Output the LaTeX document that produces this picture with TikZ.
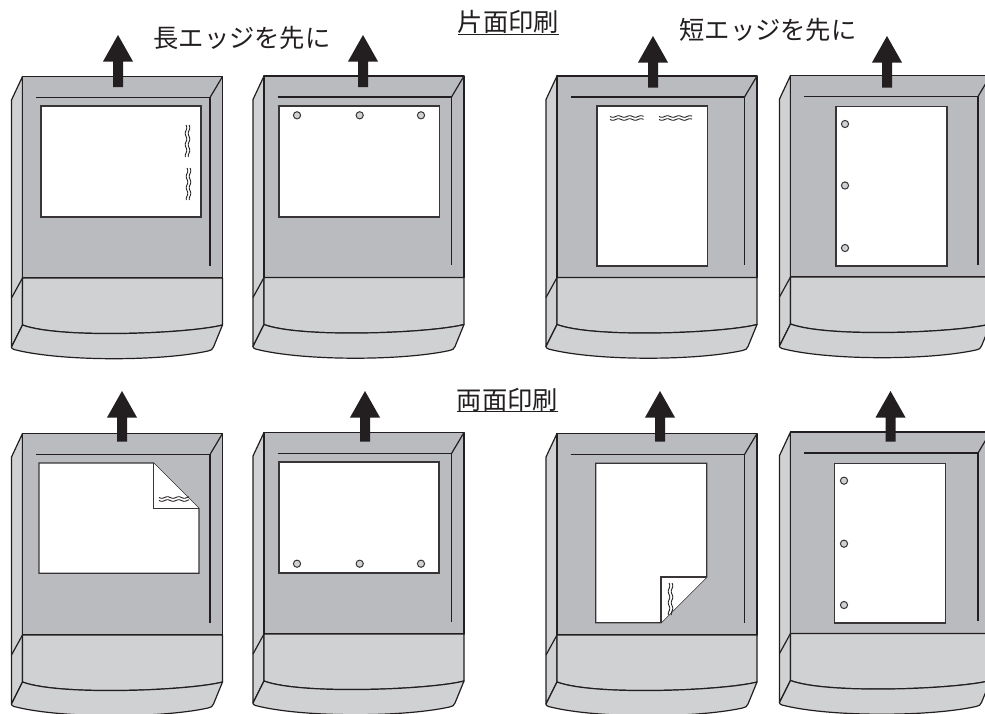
\documentclass[tikz,border=0pt]{standalone}
\usepackage{fontspec}
\setmainfont{Noto Sans CJK JP}
\definecolor{faceg}{HTML}{B9BBBE}
\definecolor{sideg}{HTML}{CFD1D3}
\definecolor{inkk}{HTML}{231F20}
\tikzset{
  outl/.style={draw=inkk,line width=1.2pt,line join=round},
  paper/.style={draw=inkk!90,fill=white,line width=1.2pt,line join=miter},
  hole/.style={draw=inkk!90,fill=sideg,line width=1pt},
  wave/.style={draw=inkk,line width=0.9pt},
  ttl/.style={inner sep=0pt,text=inkk,font=\fontsize{25.3pt}{25.3pt}\selectfont},
  rulel/.style={draw=inkk,line width=1.7pt}
}
\newcommand{\devbody}[2]{%
\begin{scope}[shift={(#1,#2)}]
  % left side
  \path[outl,fill=sideg] (22.5,76.5) -- (11.5,100) -- (11.5,347) -- (22.5,325) -- cycle;
  % top face
  \path[outl,fill=faceg] (22.5,76.5) -- (222.5,76.5) -- (222.5,278) -- (22.5,278) -- cycle;
  % front
  \path[outl,fill=sideg] (22.5,278) -- (222.5,278) -- (222.5,325)
     .. controls (190,333.5) and (60,339) .. (22.5,325) -- cycle;
  % lower lip
  \path[outl,fill=sideg] (22.5,325) .. controls (60,339) and (190,333.5) .. (222.5,325)
     -- (213.5,347) .. controls (212.5,349.5) and (211,350.5) .. (208,351)
     .. controls (160,361.5) and (60,361.5) .. (14,349.5)
     .. controls (12,348.8) and (11.5,348) .. (11.5,347) -- cycle;
  \draw[outl] (22.5,278) -- (11.5,298);
  \draw[outl] (36,97.5) -- (210,97.5) -- (210,265.5);
  \draw[outl] (210,97.5) -- (222.5,76.5);
\end{scope}}
\newcommand{\uparr}[3]{%
  \fill[inkk] (#1,#2) -- (#1+15,#2+26.5) -- (#1+5,#2+26.5) -- (#1+5,#3) -- (#1-5,#3) -- (#1-5,#2+26.5) -- (#1-15,#2+26.5) -- cycle;}
\newcommand{\hwave}[3]{%
  \draw[wave] plot[smooth,domain=0:#2-#1,samples=31] ({#1+\x},{#3-1.5+0.8*sin(32*\x)});
  \draw[wave] plot[smooth,domain=0:#2-#1,samples=31] ({#1+\x},{#3+1.5+0.8*sin(32*\x)});}
\newcommand{\vwave}[3]{%
  \draw[wave] plot[smooth,domain=0:#3-#2,samples=31] ({#1-1.5+0.8*sin(32*\x)},{#2+\x});
  \draw[wave] plot[smooth,domain=0:#3-#2,samples=31] ({#1+1.5+0.8*sin(32*\x)},{#2+\x});}
\begin{document}
\begin{tikzpicture}[x=1pt,y=-1pt]
\useasboundingbox (0,0) rectangle (985,713);
\clip (0,0) rectangle (985,713);
\fill[white] (0,0) rectangle (985,713);
% bodies
\devbody{0}{0}
\devbody{241.5}{-0.5}
\devbody{534.5}{-0.5}
\devbody{768}{-1}
\devbody{0}{357}
\devbody{241.5}{356}
\devbody{534.5}{357}
\devbody{768}{355.5}
% arrows
\uparr{118}{35}{87}
\uparr{363}{35}{87}
\uparr{653}{36}{87.5}
\uparr{887}{36}{87.5}
\uparr{122}{391}{441.5}
\uparr{365}{391}{441.5}
\uparr{660}{391}{441.5}
\uparr{890.5}{391}{441.5}
% row 1 papers
\draw[paper] (41,106) rectangle (201,217);
\vwave{187.5}{125}{157}
\vwave{188.5}{168}{200}
\draw[paper] (279,106) rectangle (439.3,217);
\foreach \hx in {297,359.7,421}{\draw[hole] (\hx,115.3) circle (3.6);}
\draw[paper] (597,106) rectangle (707.5,266);
\hwave{610}{643.5}{118}
\hwave{659}{692}{118}
\draw[paper] (836,106.5) rectangle (947,266);
\foreach \hy in {124,185.5,248}{\draw[hole] (845,\hy) circle (3.6);}
% row 2 papers
\draw[paper] (39,463) -- (153.5,463) -- (199,508.5) -- (199,573.3) -- (39,573.3) -- cycle;
\draw[paper] (153.5,463) -- (153.5,508.5) -- (199,508.5);
\hwave{159}{189}{499}
\draw[paper] (279,462) rectangle (439,573);
\foreach \hx in {297,359.7,421}{\draw[hole] (\hx,563.7) circle (3.6);}
\draw[paper] (595.7,463.3) -- (706.7,463.3) -- (706.7,577) -- (661,622.7) -- (595.7,622.7) -- cycle;
\draw[paper] (706.7,577) -- (661,577) -- (661,622.7);
\vwave{670.5}{583}{615}
\draw[paper] (834.7,463.3) rectangle (945.7,623);
\foreach \hy in {480.7,543.7,605}{\draw[hole] (844,\hy) circle (3.6);}
% text
\node[ttl] (t1) at (242,38) {長エッジを先に};
\node[ttl] (t2) at (768,30) {短エッジを先に};
\node[ttl] (t3) at (508.5,22) {片面印刷};
\node[ttl] (t4) at (507.5,400) {両面印刷};
\draw[rulel] (458.3,34.5) -- (559,34.5);
\draw[rulel] (457,411.5) -- (558,411.5);
\end{tikzpicture}
\end{document}
